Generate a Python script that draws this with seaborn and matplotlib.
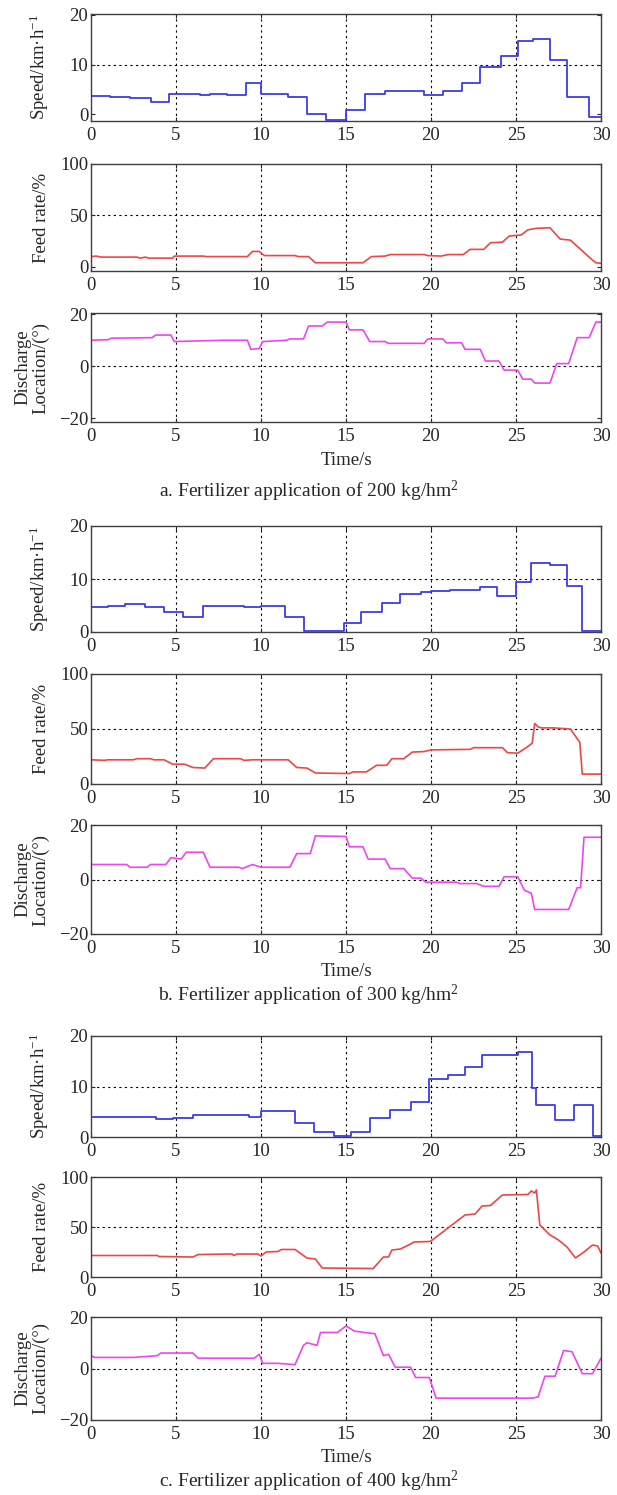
import matplotlib
matplotlib.use("Agg")
import matplotlib.pyplot as plt
import seaborn as sns

# ---- data ----
speed_a_t = [0, 1.1, 2.3, 3.5, 4.6, 6.4, 7.0, 8.0, 9.1, 10.0, 11.6, 12.7, 13.8, 15.0, 16.1, 17.3,
             19.6, 20.7, 21.8, 22.9, 24.1, 25.1, 26.0, 27.0, 28.0, 29.3, 30]
speed_a_v = [3.7, 3.5, 3.3, 2.5, 4.1, 3.9, 4.1, 3.9, 6.2, 4.0, 3.5, 0.0, -1.1, 0.8, 4.1, 4.7,
             3.8, 4.6, 6.3, 9.6, 11.8, 14.7, 15.1, 11.0, 3.4, -0.6, -0.6]
feed_a_t = [0, 0.3, 0.6, 2.7, 2.9, 3.2, 3.4, 4.8, 4.9, 6.6, 6.8, 9.2, 9.5, 9.9, 10.2, 12.0, 12.2,
            12.8, 13.2, 16.0, 16.5, 17.3, 17.6, 19.6, 19.8, 20.6, 21.0, 21.9, 22.3, 23.1, 23.5,
            24.2, 24.6, 25.3, 25.7, 26.2, 27.0, 27.6, 28.2, 28.8, 29.4, 29.7, 30]
feed_a_v = [10, 10.5, 9.5, 9.5, 8.5, 9.5, 8.5, 8.5, 10.5, 10.5, 10, 10, 15, 15, 11, 11, 10,
            10, 4, 4, 10, 10.5, 12, 12, 11, 10.5, 12, 12, 17, 17, 23.5,
            24, 30, 31, 36, 37.5, 38, 27, 26, 17, 8, 4, 3.5]
disc_a_t = [0, 1.0, 1.2, 3.6, 3.8, 4.7, 4.9, 7.8, 8.0, 9.2, 9.4, 9.9, 10.1, 11.5, 11.7, 12.5,
            12.8, 13.6, 13.9, 15.0, 15.2, 16.0, 16.4, 17.3, 17.5, 19.6, 19.8, 20.7, 20.9, 21.8,
            22.0, 22.9, 23.2, 24.0, 24.3, 25.1, 25.4, 25.9, 26.1, 27.0, 27.4, 28.1, 28.6, 29.3,
            29.7, 30]
disc_a_v = [10, 10.2, 10.8, 11.0, 12.0, 12.0, 9.5, 10, 10, 10, 6.5, 6.8, 9.5, 10, 10.5, 10.5,
            15.5, 15.5, 17, 17, 14, 14, 9.5, 9.5, 8.8, 8.8, 10.5, 10.5, 9, 9,
            6.5, 6.5, 2, 2, -1.5, -1.5, -5, -5, -6.5, -6.5, 1, 1, 11, 11,
            17, 17]

speed_b_t = [0, 1.0, 2.0, 3.2, 4.3, 5.4, 6.6, 9.0, 10.0, 11.4, 12.5, 14.9, 15.9, 17.1, 18.2,
             19.4, 20.0, 21.1, 22.9, 23.9, 25.0, 25.9, 27.0, 28.0, 28.9, 30]
speed_b_v = [4.8, 5.0, 5.2, 4.8, 3.8, 2.8, 5.0, 4.8, 5.0, 2.8, 0.1, 1.7, 3.8, 5.5, 7.1,
             7.6, 7.8, 8.0, 8.4, 6.8, 9.5, 13.0, 12.6, 8.6, 0.1, 0.1]
feed_b_t = [0, 0.8, 1.0, 2.5, 2.7, 3.5, 3.7, 4.3, 4.8, 5.5, 6.0, 6.7, 7.2, 8.8, 9.0, 9.5, 11.6,
            12.1, 12.7, 13.2, 15.2, 15.4, 16.2, 16.8, 17.4, 17.7, 18.4, 18.9, 19.6, 20.0, 22.3,
            22.5, 24.2, 24.5, 25.1, 25.6, 25.95, 26.1, 26.3, 26.5, 27.2, 28.2, 28.75, 28.9, 30]
feed_b_v = [22, 21.5, 22, 22, 23, 23, 22, 22, 18, 18, 15, 14.5, 23, 23, 21.5, 22, 22,
            15, 14.5, 10, 9.5, 11, 11, 17, 17, 23, 23, 29, 29.5, 31, 31.5,
            33, 33, 28.5, 28, 33, 37, 55, 52, 51, 51, 50, 38, 9, 9]
disc_b_t = [0, 2.1, 2.3, 3.3, 3.5, 4.4, 4.7, 5.3, 5.6, 6.6, 7.0, 8.7, 8.9, 9.5, 10.0, 11.7,
            12.1, 12.9, 13.2, 15.0, 15.2, 16.0, 16.3, 17.3, 17.6, 18.4, 18.9, 19.4, 19.7, 21.5,
            21.7, 22.7, 23.1, 24.0, 24.3, 25.1, 25.5, 25.9, 26.1, 28.1, 28.6, 28.8, 29.0, 30]
disc_b_v = [5.5, 5.5, 4.5, 4.5, 5.5, 5.5, 8, 7.5, 10, 10, 4.5, 4.5, 4, 5.5, 4.5, 4.5,
            9.5, 9.5, 16, 15.8, 12, 12, 7.5, 7.5, 4, 4, 0.5, 0.5, -1, -1,
            -1.5, -1.5, -2.5, -2.5, 1, 1, -4, -5, -11, -11, -3, -3, 15.5, 15.5]

speed_c_t = [0, 3.8, 4.8, 6.0, 9.3, 10.0, 12.0, 13.1, 14.3, 15.3, 16.4, 17.6, 18.8, 19.9,
             21.0, 22.0, 23.0, 25.1, 25.95, 26.15, 27.3, 28.4, 29.5, 30]
speed_c_v = [3.9, 3.6, 3.7, 4.3, 3.9, 5.1, 2.7, 0.9, 0.2, 0.9, 3.7, 5.3, 6.9, 11.5,
             12.2, 13.9, 16.2, 16.8, 9.8, 6.4, 3.3, 6.3, 0.2, 0.2]
feed_c_t = [0, 3.9, 4.0, 6.0, 6.3, 8.3, 8.4, 8.6, 9.8, 10.0, 10.3, 11.0, 11.2, 12.0, 12.7,
            13.2, 13.6, 16.6, 17.2, 17.5, 17.7, 18.2, 18.8, 19.0, 19.9, 20.0, 22.0, 22.6, 23.0,
            23.5, 24.2, 25.7, 25.9, 26.1, 26.2, 26.4, 27.0, 27.5, 28.0, 28.5, 29.0, 29.5, 29.8, 30]
feed_c_v = [21.5, 21.5, 20.5, 20, 22.5, 23, 21.5, 23, 23, 21, 25, 25.5, 27.5, 27.5, 19,
            18, 9, 8.5, 20, 20, 27, 28, 33, 35, 35.5, 36, 62, 63, 71,
            71.5, 82, 82.5, 86, 84, 87, 52, 42, 37, 30, 19, 25, 32, 31, 24]
disc_c_t = [0, 0.2, 2.5, 3.5, 3.9, 4.1, 6.0, 6.3, 9.6, 9.9, 10.1, 11.0, 12.0, 12.5, 12.7, 13.3,
            13.5, 14.5, 14.8, 15.0, 15.5, 16.7, 17.2, 17.5, 17.9, 18.1, 18.8, 19.1, 19.9, 20.3,
            26.0, 26.3, 26.7, 27.3, 27.8, 28.3, 28.9, 29.5, 30]
disc_c_v = [5, 4.3, 4.3, 4.8, 5, 6, 6, 4, 4, 5.5, 2, 2, 1.5, 9, 10, 9,
            14, 14, 15.5, 16.5, 14.5, 13.5, 5, 5.5, 0.5, 0.5, 0.5, -3.5, -3.5, -11.5,
            -11.5, -11, -3, -3, 7, 6.5, -2, -2, 4]

captions = ["a. Fertilizer application of 200 kg/hm$^2$",
            "b. Fertilizer application of 300 kg/hm$^2$",
            "c. Fertilizer application of 400 kg/hm$^2$"]
xticks = [0, 5, 10, 15, 20, 25, 30]
speed_ticks = [0, 10, 20]
feed_ticks = [0, 50, 100]
disc_ticks = [-20, 0, 20]

sns.set_style("ticks")
plt.rcParams['font.family'] = ['Liberation Serif', 'DejaVu Serif']
plt.rcParams['mathtext.fontset'] = 'custom'
plt.rcParams['mathtext.rm'] = 'Liberation Serif'
plt.rcParams['mathtext.it'] = 'Liberation Serif:italic'

FS = 13.5
W, H = 617, 1495
fig = plt.figure(figsize=(W / 100, H / 100), dpi=100)

left_px, right_px = 91, 601
# (top, bottom) pixel rows of each panel
rows = [
    [(14, 121), (164, 271), (313, 422)],
    [(526, 632), (674, 784), (825, 934)],
    [(1036, 1137), (1177, 1277), (1317, 1420)],
]
caption_y = [491, 995, 1481]

groups = [
    (speed_a_t, speed_a_v, feed_a_t, feed_a_v, disc_a_t, disc_a_v, (-1.4, 20.2), (-4, 100), (-21.5, 20.5)),
    (speed_b_t, speed_b_v, feed_b_t, feed_b_v, disc_b_t, disc_b_v, (0, 20), (0, 100), (-20, 20)),
    (speed_c_t, speed_c_v, feed_c_t, feed_c_v, disc_c_t, disc_c_v, (0, 20), (0, 100), (-20, 20)),
]

blue, red, magenta = '#3c3cec', '#ee4646', '#ee46ee'


def make_ax(top, bottom):
    ax = fig.add_axes([left_px / W, 1 - bottom / H, (right_px - left_px) / W, (bottom - top) / H])
    return ax


def style(ax, yticks, ylim):
    ax.set_xlim(0, 30)
    ax.set_ylim(*ylim)
    ax.set_xticks(xticks)
    ax.set_yticks(yticks)
    ax.grid(True, linestyle=(0, (2, 3)), color='black', linewidth=0.8)
    # only the inner grid lines show in the original
    xg = ax.xaxis.get_gridlines()
    yg = ax.yaxis.get_gridlines()
    for line in (xg[0], xg[-1], yg[0], yg[-1]):
        line.set_visible(False)
    ax.tick_params(direction='in', length=3, labelsize=FS, top=True, right=True)
    ax.tick_params(axis='x', pad=4)
    ax.tick_params(axis='y', pad=2)
    for s in ax.spines.values():
        s.set_color('#404040')
        s.set_linewidth(1.0)
    ax.set_xlabel('')


for g, (st, sv, ft, fv, dt, dv, ylim_s, ylim_f, ylim_d) in enumerate(groups):
    (t1, b1), (t2, b2), (t3, b3) = rows[g]

    ax1 = make_ax(t1, b1)
    sns.lineplot(x=st, y=sv, ax=ax1, color=blue, linewidth=1.3, drawstyle='steps-post',
                 estimator=None, sort=False)
    style(ax1, speed_ticks, ylim_s)
    ax1.set_ylabel('Speed/km·h$^{-1}$', fontsize=FS)
    ax1.yaxis.set_label_coords(-0.078, 0.5)

    ax2 = make_ax(t2, b2)
    sns.lineplot(x=ft, y=fv, ax=ax2, color=red, linewidth=1.2, estimator=None, sort=False)
    style(ax2, feed_ticks, ylim_f)
    ax2.set_ylabel('Feed rate/%', fontsize=FS)
    ax2.yaxis.set_label_coords(-0.08, 0.5)

    ax3 = make_ax(t3, b3)
    sns.lineplot(x=dt, y=dv, ax=ax3, color=magenta, linewidth=1.2, estimator=None, sort=False)
    style(ax3, disc_ticks, ylim_d)
    ax3.set_ylabel('Discharge\nLocation/(°)', fontsize=FS, linespacing=1.05)
    ax3.yaxis.set_label_coords(-0.082, 0.5)
    ax3.set_xlabel('Time/s', fontsize=FS, labelpad=5)

    fig.text(0.5, 1 - caption_y[g] / H, captions[g], ha='center', va='center', fontsize=14)

fig.savefig('out.png', dpi=100, facecolor='white')
